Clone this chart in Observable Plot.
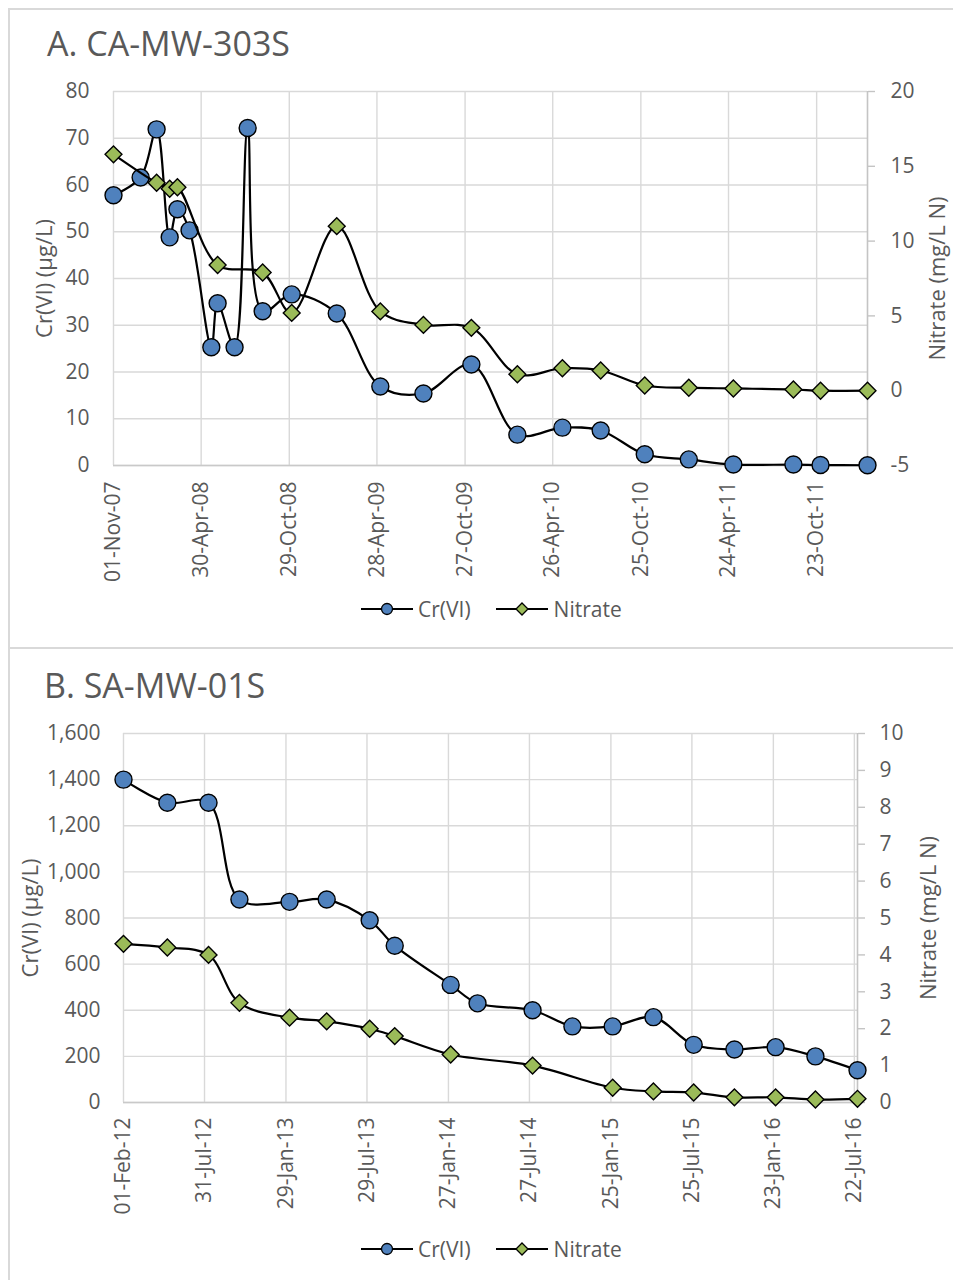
<!DOCTYPE html>
<html><head><meta charset="utf-8">
<script src="https://cdn.jsdelivr.net/npm/d3@7"></script>
<script src="https://cdn.jsdelivr.net/npm/@observablehq/plot@0.6"></script>
<style>
body{margin:0;background:#fff;font-family:"Open Sans",sans-serif;color:#595959}
#root{position:relative;width:953px;height:1280px;overflow:hidden;background:#fff}
.abs{position:absolute}
.title{font-size:34px;line-height:34px;white-space:nowrap;color:#595959}
.legend{display:flex;align-items:center;font-size:21px;line-height:24px;height:24px;white-space:nowrap}
.legend span{color:#595959}
</style></head><body><div id="root"></div><script>
// ---------- Panel A data: CA-MW-303S ----------
const titleA = "A. CA-MW-303S";
const crDatesA = ["2007-11-01","2007-12-27","2008-01-29","2008-02-25","2008-03-12","2008-04-06","2008-05-21","2008-06-03","2008-07-08","2008-08-04","2008-09-04","2008-11-03","2009-02-04","2009-05-05","2009-08-02","2009-11-09","2010-02-12","2010-05-16","2010-08-03","2010-11-02","2011-02-01","2011-05-04","2011-09-05","2011-10-31","2012-02-05"];
const crValuesA = [57.8,61.6,71.9,48.8,54.8,50.3,25.3,34.7,25.3,72.2,33.0,36.6,32.5,16.9,15.4,21.6,6.6,8.1,7.5,2.4,1.3,0.2,0.2,0.1,0.05];
const nitDatesA = ["2007-11-01","2008-01-29","2008-02-25","2008-03-12","2008-06-03","2008-09-04","2008-11-03","2009-02-04","2009-05-05","2009-08-02","2009-11-09","2010-02-12","2010-05-16","2010-08-03","2010-11-02","2011-02-01","2011-05-04","2011-09-05","2011-10-31","2012-02-05"];
const nitValuesA = [15.8,13.9,13.5,13.6,8.4,7.9,5.2,11.0,5.3,4.4,4.2,1.1,1.5,1.35,0.35,0.2,0.15,0.08,0.0,0.0];
const xTicksA = ["2007-11-01","2008-04-30","2008-10-29","2009-04-28","2009-10-27","2010-04-26","2010-10-25","2011-04-24","2011-10-23"];
const xDomainA = ["2007-11-01","2012-02-05"];
const leftTicksA = [0,10,20,30,40,50,60,70,80];
const rightTicksA = [-5,0,5,10,15,20];

// ---------- Panel B data: SA-MW-01S ----------
const titleB = "B. SA-MW-01S";
const crDatesB = ["2012-02-01","2012-05-09","2012-08-09","2012-10-17","2013-02-06","2013-04-30","2013-08-04","2013-09-29","2014-02-01","2014-04-02","2014-08-03","2014-10-31","2015-01-29","2015-04-30","2015-07-29","2015-10-28","2016-01-28","2016-04-26","2016-07-29"];
const crValuesB = [1400,1300,1300,880,870,880,790,680,510,430,400,330,330,370,250,230,240,200,140];
const nitDatesB = ["2012-02-01","2012-05-09","2012-08-09","2012-10-17","2013-02-06","2013-04-30","2013-08-04","2013-09-29","2014-02-01","2014-08-03","2015-01-29","2015-04-30","2015-07-29","2015-10-28","2016-01-28","2016-04-26","2016-07-29"];
const nitValuesB = [4.3,4.2,4.0,2.7,2.3,2.2,2.0,1.8,1.3,1.0,0.4,0.3,0.27,0.14,0.14,0.08,0.1];
const xTicksB = ["2012-02-01","2012-07-31","2013-01-29","2013-07-29","2014-01-27","2014-07-27","2015-01-25","2015-07-25","2016-01-23","2016-07-22"];
const xDomainB = ["2012-02-01","2016-07-29"];
const leftTicksB = [0,200,400,600,800,1000,1200,1400,1600];
const rightTicksB = [0,1,2,3,4,5,6,7,8,9,10];

const leftLabel = "Cr(VI) (µg/L)";
const rightLabel = "Nitrate (mg/L N)";
const seriesNames = ["Cr(VI)", "Nitrate"];

const parse = d3.utcParse("%Y-%m-%d");
const fmt = d3.utcFormat("%d-%b-%y");
const BLUE = "#4f81bd", GREEN = "#9bbb59", TXT = "#595959", GRID = "#d9d9d9";
const root = document.getElementById("root");

function addDiv(cls, style, html) {
  const d = document.createElement("div");
  d.className = cls; Object.assign(d.style, style); if (html != null) d.innerHTML = html;
  root.appendChild(d); return d;
}

function panel(o) {
  const cr = o.crDates.map((d, i) => ({date: parse(d), value: o.crValues[i]}));
  const nit = o.nitDates.map((d, i) => ({date: parse(d), value: o.nitValues[i]}));
  const xt = o.xTicks.map(parse);
  const dom = o.xDomain.map(parse);
  const lmax = o.leftTicks[o.leftTicks.length - 1], lmin = o.leftTicks[0];
  const rmin = o.rightTicks[0], rmax = o.rightTicks[o.rightTicks.length - 1];
  const toLeft = v => lmin + (v - rmin) * (lmax - lmin) / (rmax - rmin);
  const fromLeft = p => Math.round(rmin + (p - lmin) * (rmax - rmin) / (lmax - lmin));
  const svg = Plot.plot({
    width: 953, height: o.height,
    marginLeft: o.ml, marginRight: o.mr, marginTop: o.mt, marginBottom: o.mb,
    style: {fontFamily: "'Open Sans', sans-serif", fontSize: "21px", color: TXT, background: "transparent", overflow: "visible"},
    x: {type: "utc", domain: dom},
    y: {domain: [lmin, lmax]},
    marks: [
      Plot.gridX(xt, {stroke: GRID, strokeOpacity: 1, strokeWidth: 1.4}),
      Plot.gridY(o.leftTicks, {stroke: GRID, strokeOpacity: 1, strokeWidth: 1.4}),
      Plot.ruleY([lmin], {stroke: "#c9c9c9", strokeWidth: 1.6}),
      Plot.ruleX([dom[1]], {stroke: "#c4c4c4", strokeWidth: 1.6}),
      Plot.axisY(o.leftTicks, {anchor: "left", tickSize: 0, tickPadding: o.ltp, tickFormat: o.leftFmt, fontSize: 21, fill: TXT, label: null}),
      Plot.axisY(o.rightTicks.map(toLeft), {anchor: "right", tickSize: 7, tickPadding: o.rtp, stroke: "#c4c4c4", strokeWidth: 1.4, tickFormat: fromLeft, fontSize: 21, fill: TXT, label: null}),
      Plot.axisX(xt, {anchor: "bottom", tickRotate: -90, tickSize: 0, tickPadding: o.xtp, tickFormat: fmt, fontSize: 21, fill: TXT, label: null}),
      Plot.text([leftLabel], {text: d => d, frameAnchor: "left", rotate: -90, dx: o.ldx, fontSize: 22, fill: TXT, textAnchor: "middle", lineAnchor: "middle"}),
      Plot.text([rightLabel], {text: d => d, frameAnchor: "right", rotate: -90, dx: o.rdx, fontSize: 22, fill: TXT, textAnchor: "middle", lineAnchor: "middle"}),
      Plot.line(cr, {x: "date", y: "value", curve: "catmull-rom", stroke: "black", strokeWidth: 2.2}),
      Plot.dot(cr, {x: "date", y: "value", r: 8.5, fill: BLUE, stroke: "black", strokeWidth: 1.4}),
      Plot.line(nit, {x: "date", y: d => toLeft(d.value), curve: "catmull-rom", stroke: "black", strokeWidth: 2.2}),
      Plot.dot(nit, {x: "date", y: d => toLeft(d.value), symbol: "diamond2", r: 7.6, fill: GREEN, stroke: "black", strokeWidth: 1.4})
    ]
  });
  svg.style.position = "absolute"; svg.style.left = "0px"; svg.style.top = o.top + "px";
  root.appendChild(svg);
  addDiv("abs title", {left: o.titleX + "px", top: o.titleY + "px"}, o.title);
  const lg = addDiv("abs legend", {left: "361px", top: (o.legendY - 12) + "px"});
  lg.innerHTML =
    `<svg width="52" height="20" style="overflow:visible"><line x1="0" x2="52" y1="10" y2="10" stroke="black" stroke-width="2.2"/><circle cx="26" cy="10" r="5.5" fill="${BLUE}" stroke="black" stroke-width="1.3"/></svg>` +
    `<span style="margin-left:5px">${seriesNames[0]}</span>` +
    `<svg width="52" height="20" style="overflow:visible;margin-left:25px"><line x1="0" x2="52" y1="10" y2="10" stroke="black" stroke-width="2.2"/><path d="M26,4L32,10L26,16L20,10Z" fill="${GREEN}" stroke="black" stroke-width="1.3"/></svg>` +
    `<span style="margin-left:6px">${seriesNames[1]}</span>`;
}

// panel frames
addDiv("abs", {left: "8px", top: "8px", width: "2px", height: "1272px", background: GRID});
addDiv("abs", {left: "8px", top: "8px", width: "945px", height: "2px", background: GRID});
addDiv("abs", {left: "8px", top: "647px", width: "945px", height: "2px", background: GRID});

panel({title: titleA, titleX: 47, titleY: 26, legendY: 609,
  crDates: crDatesA, crValues: crValuesA, nitDates: nitDatesA, nitValues: nitValuesA,
  xTicks: xTicksA, xDomain: xDomainA, leftTicks: leftTicksA, rightTicks: rightTicksA,
  leftFmt: d3.format("d"), top: 70, height: 520, mt: 21, mb: 125, ml: 113, mr: 86,
  ltp: 24, rtp: 16, xtp: 16, ldx: -69, rdx: 70});

panel({title: titleB, titleX: 44, titleY: 668, legendY: 1249,
  crDates: crDatesB, crValues: crValuesB, nitDates: nitDatesB, nitValues: nitValuesB,
  xTicks: xTicksB, xDomain: xDomainB, leftTicks: leftTicksB, rightTicks: rightTicksB,
  leftFmt: d3.format(","), top: 710, height: 512, mt: 23, mb: 120, ml: 123, mr: 96,
  ltp: 23, rtp: 15, xtp: 15, ldx: -93, rdx: 71});
</script></body></html>
